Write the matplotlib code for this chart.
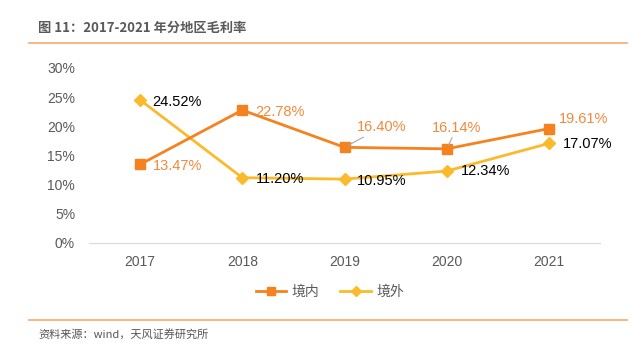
import matplotlib
matplotlib.use("Agg")
import matplotlib.pyplot as plt
from matplotlib.lines import Line2D
from matplotlib.ticker import FuncFormatter

plt.rcParams['font.family'] = ['Liberation Sans', 'Noto Sans CJK SC', 'DejaVu Sans']

# data
years = ["2017", "2018", "2019", "2020", "2021"]
domestic = [13.47, 22.78, 16.40, 16.14, 19.61]   # 境内
overseas = [24.52, 11.20, 10.95, 12.34, 17.07]   # 境外
series_names = ["境内", "境外"]
yticks = [0, 5, 10, 15, 20, 25, 30]

orange = "#F5821F"
yellow = "#FBBA2C"
label_orange = "#F08A3C"

W, H = 633, 351
fig = plt.figure(figsize=(W / 100, H / 100), dpi=100)

# header / footer
fig.text(38 / W, 1 - 28 / H, "图 11：2017-2021 年分地区毛利率", fontsize=9.5, fontweight="bold",
         color="#5a5a5a", va="center", ha="left", family=["Noto Sans CJK SC", "DejaVu Sans"])
fig.add_artist(Line2D([29 / W, 627 / W], [1 - 43 / H, 1 - 43 / H], color="#F7B07A", lw=1.3))
fig.add_artist(Line2D([29 / W, 627 / W], [1 - 320 / H, 1 - 320 / H], color="#F7B07A", lw=1.3))
fig.text(38 / W, 1 - 334 / H, "资料来源：wind，天风证券研究所", fontsize=8, color="#555555",
         va="center", ha="left", family=["Noto Sans CJK SC", "DejaVu Sans"])

ax = fig.add_axes([89 / W, 108 / H, 511 / W, 175 / H])
x = list(range(len(years)))
ax.plot(x, domestic, color=orange, lw=2, marker="s", ms=7, label=series_names[0], zorder=3)
ax.plot(x, overseas, color=yellow, lw=2, marker="D", ms=6, label=series_names[1], zorder=2)

ax.set_xlim(-0.5, len(years) - 0.5)
ax.set_ylim(0, 30)
ax.set_xticks(x)
ax.set_xticklabels(years)
ax.set_yticks(yticks)
ax.yaxis.set_major_formatter(FuncFormatter(lambda v, _: f"{v:.0f}%"))
ax.tick_params(axis="both", length=0, labelsize=10, labelcolor="#595959")
ax.tick_params(axis="y", pad=10)
ax.tick_params(axis="x", pad=9)
for s in ["top", "right", "left"]:
    ax.spines[s].set_visible(False)
ax.spines["bottom"].set_color("#D9D9D9")

# data labels (offsets in pixels)
dom_off = [(37, -2), (38, -2), (37, 20), (10, 21), (35, 10)]
ovs_off = [(37, -2), (38, -1), (37, -2), (39, 0), (39, -1)]
for i, (v, off) in enumerate(zip(domestic, dom_off)):
    arrow = dict(arrowstyle="-", color="#A6A6A6", lw=0.8, shrinkA=0, shrinkB=3) if off[1] > 15 else None
    ax.annotate(f"{v:.2f}%", (i, v), xytext=off, textcoords="offset pixels", ha="center", va="center",
                fontsize=10.5, color=label_orange, arrowprops=arrow)
for i, (v, off) in enumerate(zip(overseas, ovs_off)):
    ax.annotate(f"{v:.2f}%", (i, v), xytext=off, textcoords="offset pixels", ha="center", va="center",
                fontsize=10.5, color="black")

leg = fig.legend(loc="center", bbox_to_anchor=(330 / W, 1 - 292 / H), ncol=2, frameon=False,
                 prop={"family": ["Noto Sans CJK SC"], "size": 10}, handlelength=2.2,
                 columnspacing=1.5, handletextpad=0.4, markerscale=0.85)
for t in leg.get_texts():
    t.set_color("#595959")

fig.savefig("out.png", dpi=100)
